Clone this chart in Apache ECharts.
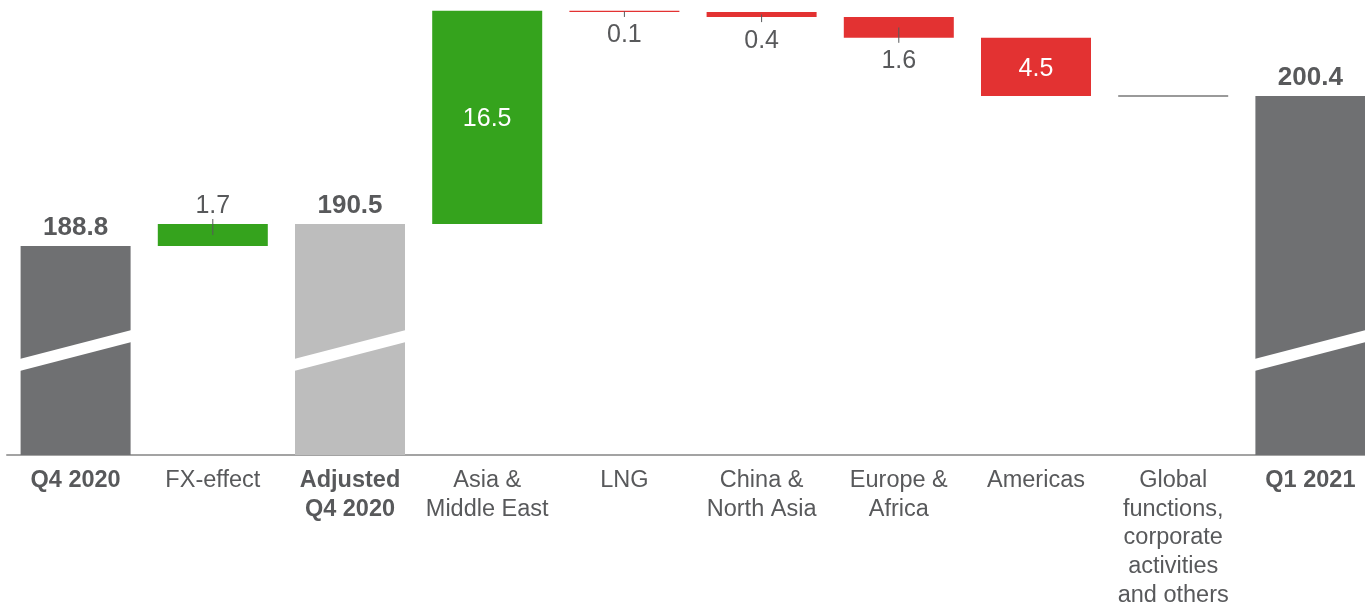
<!DOCTYPE html>
<html>
<head>
<meta charset="utf-8">
<script src="https://cdn.jsdelivr.net/npm/echarts@6/dist/echarts.min.js"></script>
<style>
html,body{margin:0;padding:0;background:#fff;}
#chart{width:1365px;height:603px;}
</style>
</head>
<body>
<div id="chart"></div>
<script>
// ---- data ----
const categories = ['Q4 2020', 'FX-effect', 'Adjusted\nQ4 2020', 'Asia &\nMiddle East', 'LNG',
  'China &\nNorth Asia', 'Europe &\nAfrica', 'Americas',
  'Global\nfunctions,\ncorporate\nactivities\nand others', 'Q1 2021'];
const values = [188.8, 1.7, 190.5, 16.5, -0.1, -0.4, -1.6, -4.5, 0.0, 200.4];
const kinds = ['total', 'delta', 'adjusted', 'delta', 'delta', 'delta', 'delta', 'delta', 'delta', 'total'];

// ---- styles ----
const FONT = '"Liberation Sans", Arial, sans-serif';
const TEXT = '#58595b';
const C_TOTAL = '#6f7072', C_ADJ = '#bdbdbd', C_POS = '#35a31d', C_NEG = '#e33232', C_ZERO = '#9a9a9a';
const Y_MIN = 172.64, Y_MAX = 207.05;
const BAR_W = 110;

// ---- derived waterfall ----
let running = 0;
const lo = [], hi = [];
kinds.forEach((k, i) => {
  const v = values[i];
  if (k === 'delta') {
    const s = running, e = running + v;
    lo.push(Math.min(s, e)); hi.push(Math.max(s, e));
    running = e;
  } else {
    lo.push(0); hi.push(v);
    running = v;
  }
});
const isTotal = k => k !== 'delta';
const insideLabel = i => kinds[i] === 'delta' && Math.abs(values[i]) >= 3;

const baseData = kinds.map((k, i) => isTotal(k) ? 0 : lo[i]);
const barData = kinds.map((k, i) => {
  const v = values[i];
  const h = hi[i] - lo[i];
  let color = k === 'total' ? C_TOTAL : k === 'adjusted' ? C_ADJ : (v >= 0 ? C_POS : C_NEG);
  let label;
  if (isTotal(k)) {
    label = {show: true, position: 'top', distance: 5, fontFamily: FONT, fontSize: 26, fontWeight: 'bold', color: TEXT,
      formatter: v.toFixed(1)};
  } else if (v === 0) {
    label = {show: false};
  } else if (insideLabel(i)) {
    label = {show: true, position: 'inside', offset: [0, 2], fontFamily: FONT, fontSize: 25, color: '#fff',
      formatter: Math.abs(v).toFixed(1)};
  } else {
    label = {show: true, position: v > 0 ? 'top' : 'bottom', distance: v > 0 ? 5 : 11, fontFamily: FONT, fontSize: 25, color: TEXT,
      formatter: Math.abs(v).toFixed(1)};
  }
  return {value: h, itemStyle: {color}, label};
});

const chart = echarts.init(document.getElementById('chart'), null, {renderer: 'canvas'});
chart.setOption({
  animation: false,
  grid: {left: 7, width: 1372, top: 10, bottom: 148, containLabel: false, outerBoundsMode: 'none'},
  xAxis: {
    type: 'category', data: categories,
    axisLine: {lineStyle: {color: '#a3a3a3', width: 2}},
    axisTick: {show: false},
    axisLabel: {
      interval: 0, margin: 11, fontFamily: FONT, fontSize: 23.5, lineHeight: 28.75, color: TEXT,
      hideOverlap: false,
      formatter: (val, idx) => isTotal(kinds[idx]) ? val.split('\n').map(s => '{b|' + s + '}').join('\n') : val,
      rich: {b: {fontFamily: FONT, fontSize: 23.5, lineHeight: 28.75, fontWeight: 'bold', color: TEXT}}
    }
  },
  yAxis: {type: 'value', min: Y_MIN, max: Y_MAX, show: false, splitLine: {show: false}},
  series: [
    {type: 'bar', stack: 'w', data: baseData, barWidth: BAR_W, itemStyle: {color: 'transparent'}, silent: true},
    {type: 'bar', stack: 'w', data: barData, barWidth: BAR_W},
    {
      type: 'custom', z: 10, clip: false,
      data: categories.map((c, i) => [i, hi[i]]),
      encode: {x: 0, y: 1},
      renderItem: (params, api) => {
        const i = params.dataIndex;
        const k = kinds[i];
        const v = values[i];
        const children = [];
        const cx = api.coord([i, hi[i]])[0];
        const xl = cx - BAR_W / 2, xr = cx + BAR_W / 2;
        if (isTotal(k)) {
          const b = api.coord([i, Y_MIN])[1];
          children.push({type: 'polygon', shape: {points: [
            [xl - 1, b - 84], [xr + 1, b - 113], [xr + 1, b - 125], [xl - 1, b - 96]
          ]}, style: {fill: '#fff'}});
        } else if (v === 0) {
          const y = api.coord([i, hi[i]])[1];
          children.push({type: 'line', shape: {x1: xl, y1: y, x2: xr, y2: y}, style: {stroke: C_ZERO, lineWidth: 2}});
        } else if (!insideLabel(i)) {
          const yTop = api.coord([i, hi[i]])[1];
          const yBot = api.coord([i, lo[i]])[1];
          const mid = (yTop + yBot) / 2;
          const end = v > 0 ? yTop - 5 : yBot + 5;
          children.push({type: 'line', shape: {x1: cx, y1: mid, x2: cx, y2: end}, style: {stroke: TEXT, lineWidth: 1}});
        }
        return {type: 'group', children};
      }
    }
  ]
});
</script>
</body>
</html>
